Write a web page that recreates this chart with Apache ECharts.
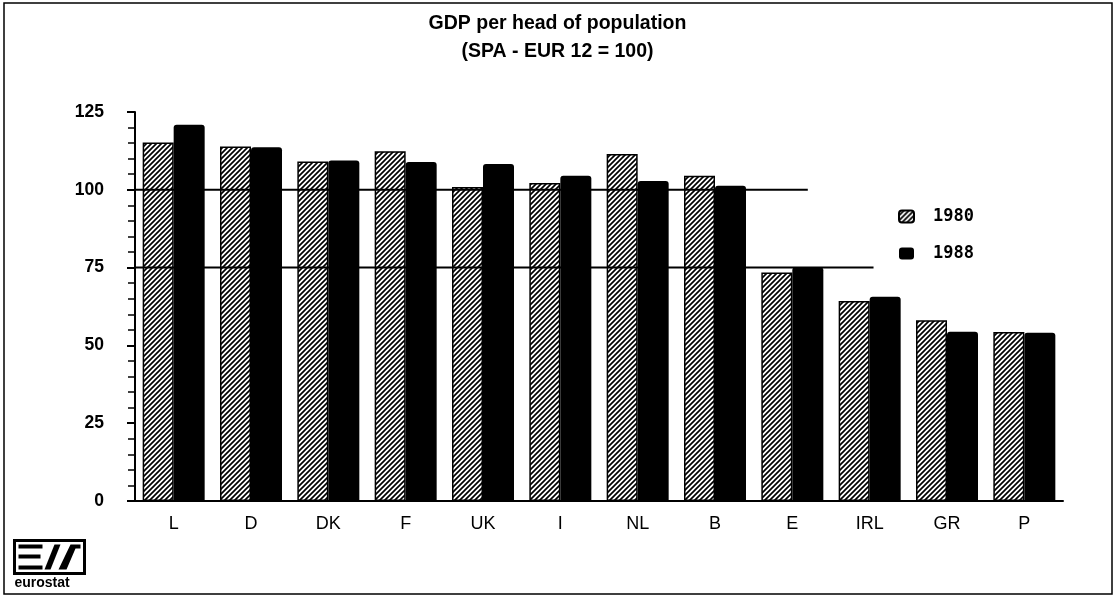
<!DOCTYPE html>
<html>
<head>
<meta charset="utf-8">
<script src="https://cdn.jsdelivr.net/npm/echarts@6/dist/echarts.min.js"></script>
<style>
  html, body { margin: 0; padding: 0; background: #fff; }
  #chart { width: 1115px; height: 597px; }
</style>
</head>
<body>
<div id="chart"></div>
<script>
const categories = ["L", "D", "DK", "F", "UK", "I", "NL", "B", "E", "IRL", "GR", "P"];
const values1980 = [115.2, 113.9, 109.1, 112.4, 100.9, 102.2, 111.5, 104.5, 73.4, 64.3, 58.1, 54.3];
const values1988 = [120.9, 113.7, 109.4, 108.9, 108.3, 104.5, 102.8, 101.3, 75.1, 65.6, 54.4, 54.1];
const yTicks = [0, 25, 50, 75, 100, 125];
// reference lines: level and where they stop (in category index units)
const refLevels = [100, 75];
const refEnds = [8.2, 9.05];

const FONT = "'Liberation Sans', Arial, Helvetica, sans-serif";

// diagonal hatching for 1980 bars
const makeHatch = () => {
  const size = 5;
  const c = document.createElement("canvas");
  c.width = size;
  c.height = size;
  const ctx = c.getContext("2d");
  ctx.fillStyle = "#fff";
  ctx.fillRect(0, 0, size, size);
  ctx.strokeStyle = "#000";
  ctx.lineWidth = 1.7;
  ctx.beginPath();
  ctx.moveTo(-1, size + 1);
  ctx.lineTo(size + 1, -1);
  ctx.moveTo(-1, 1);
  ctx.lineTo(1, -1);
  ctx.moveTo(size - 1, size + 1);
  ctx.lineTo(size + 1, size - 1);
  ctx.stroke();
  return c;
};

const chart = echarts.init(document.getElementById("chart"));

const refSeries = refLevels.map((lvl, i) => ({
  name: "ref" + lvl,
  type: "line",
  xAxisIndex: 1,
  yAxisIndex: 0,
  data: [[-0.5, lvl], [refEnds[i], lvl]],
  symbol: "none",
  silent: true,
  z: 5,
  lineStyle: { color: "#000", width: 2 }
}));

chart.setOption({
  animation: false,
  backgroundColor: "#fff",
  title: {
    text: "GDP per head of population\n(SPA - EUR 12 = 100)",
    left: "center",
    top: 5,
    textStyle: {
      fontFamily: FONT,
      fontSize: 19.5,
      fontWeight: "bold",
      color: "#000",
      lineHeight: 28
    }
  },
  legend: {
    data: ["1980", "1988"],
    orient: "vertical",
    left: 893,
    top: 203,
    itemWidth: 15,
    itemHeight: 12,
    itemGap: 20,
    textStyle: {
      fontFamily: "'DejaVu Sans Mono', monospace",
      fontWeight: "bold",
      fontSize: 17,
      color: "#000",
      padding: [0, 0, 0, 14]
    }
  },
  grid: { left: 135, right: 52, top: 112, bottom: 96 },
  xAxis: [
    {
      type: "category",
      data: categories,
      axisLine: { lineStyle: { color: "#000", width: 2 } },
      axisTick: { show: false },
      axisLabel: { color: "#000", fontFamily: FONT, fontSize: 18, margin: 14 }
    },
    {
      type: "value",
      min: -0.5,
      max: categories.length - 0.5,
      show: false
    }
  ],
  yAxis: {
    type: "value",
    min: yTicks[0],
    max: yTicks[yTicks.length - 1],
    interval: yTicks[1] - yTicks[0],
    axisLine: { show: true, onZero: false, lineStyle: { color: "#000", width: 2 } },
    axisTick: { show: true, length: 8, lineStyle: { color: "#000", width: 2 } },
    minorTick: { show: true, splitNumber: 5, length: 7, lineStyle: { color: "#000", width: 1.5 } },
    splitLine: { show: false },
    axisLabel: {
      color: "#000",
      fontFamily: FONT,
      fontSize: 17.5,
      fontWeight: "bold",
      margin: 31
    }
  },
  series: [
    {
      name: "1980",
      type: "bar",
      data: values1980,
      barWidth: 31,
      barGap: "0%",
      itemStyle: {
        color: { image: makeHatch(), repeat: "repeat" },
        borderColor: "#000",
        borderWidth: 1.5
      }
    },
    {
      name: "1988",
      type: "bar",
      data: values1988,
      barWidth: 31,
      itemStyle: { color: "#000", borderRadius: [3, 3, 0, 0] }
    },
    ...refSeries
  ],
  graphic: [
    {
      type: "rect",
      shape: { x: 4, y: 3, width: 1108, height: 591 },
      style: { fill: "none", stroke: "#000", lineWidth: 1.5 },
      silent: true
    },
    {
      type: "group",
      left: 12,
      top: 538,
      children: [
        { type: "rect", shape: { x: 0, y: 0, width: 70, height: 33 }, style: { fill: "none", stroke: "#000", lineWidth: 3 } },
        { type: "rect", shape: { x: 4, y: 4, width: 24, height: 4 }, style: { fill: "#000" } },
        { type: "rect", shape: { x: 4, y: 14, width: 22, height: 4 }, style: { fill: "#000" } },
        { type: "rect", shape: { x: 4, y: 25, width: 24, height: 4 }, style: { fill: "#000" } },
        { type: "polygon", shape: { points: [[30, 29], [36, 29], [46, 4], [40, 4]] }, style: { fill: "#000" } },
        { type: "polygon", shape: { points: [[44, 29], [52, 29], [61, 8], [66, 8], [66, 4], [56, 4]] }, style: { fill: "#000" } },
        {
          type: "text",
          x: 0,
          y: 36,
          style: { text: "eurostat", fill: "#000", font: "bold 14px " + FONT }
        }
      ]
    }
  ]
});
</script>
</body>
</html>
